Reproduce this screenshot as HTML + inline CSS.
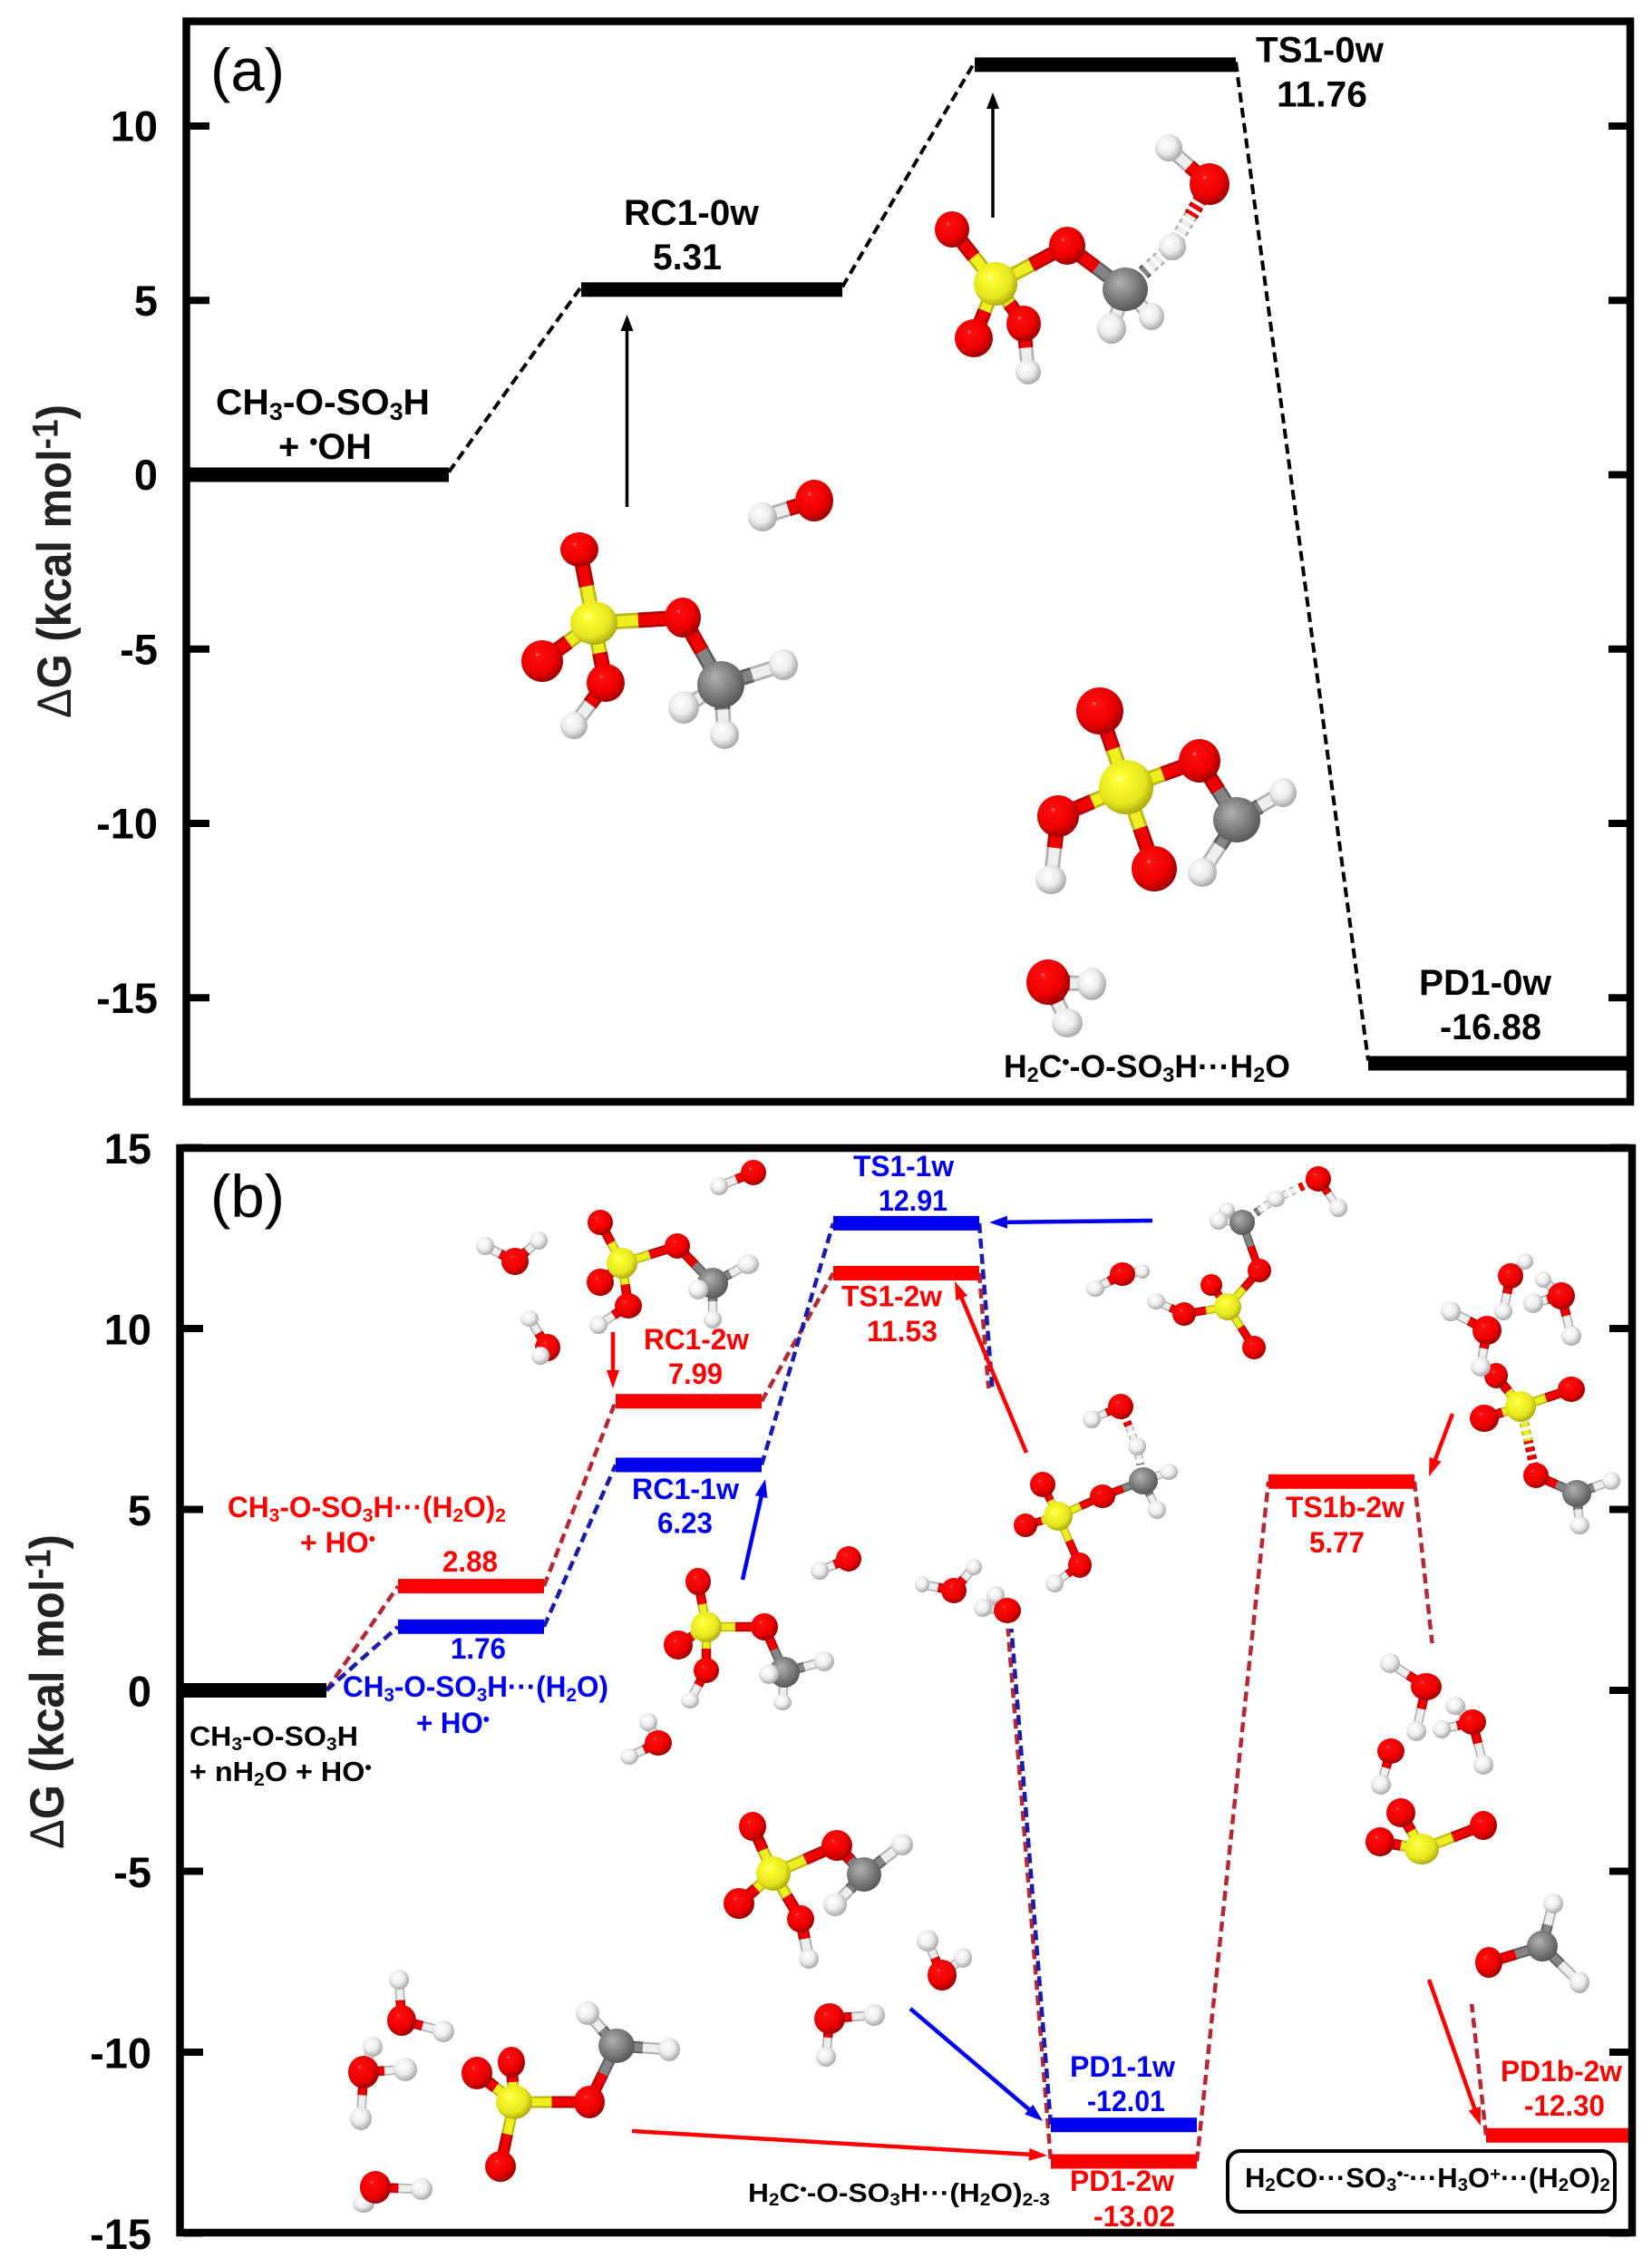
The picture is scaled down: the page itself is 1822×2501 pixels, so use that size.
<!DOCTYPE html>
<html lang="en">
<head>
<meta charset="utf-8">
<title>Free energy profiles</title>
<style>
html,body{margin:0;padding:0;background:#fff;}
svg{display:block;}
text{font-family:"Liberation Sans",Arial,sans-serif;}
</style>
</head>
<body>
<svg id="chart" xmlns="http://www.w3.org/2000/svg" width="1822" height="2501" viewBox="0 0 1822 2501">
<defs>
<radialGradient id="gO" cx="42%" cy="40%" r="62%" fx="38%" fy="34%"><stop offset="0" stop-color="#ff9a9a"/><stop offset=".08" stop-color="#ff1010"/><stop offset=".65" stop-color="#ee0000"/><stop offset="1" stop-color="#980000"/></radialGradient>
<radialGradient id="gS" cx="42%" cy="40%" r="62%" fx="38%" fy="34%"><stop offset="0" stop-color="#ffffa0"/><stop offset=".15" stop-color="#fdfd30"/><stop offset=".7" stop-color="#e6e620"/><stop offset="1" stop-color="#a8a810"/></radialGradient>
<radialGradient id="gC" cx="42%" cy="40%" r="62%" fx="38%" fy="34%"><stop offset="0" stop-color="#b0b0b0"/><stop offset=".5" stop-color="#858585"/><stop offset="1" stop-color="#565656"/></radialGradient>
<radialGradient id="gH" cx="42%" cy="40%" r="62%" fx="38%" fy="34%"><stop offset="0" stop-color="#ffffff"/><stop offset=".55" stop-color="#ececec"/><stop offset="1" stop-color="#a4a4a4"/></radialGradient>
</defs>
</svg>
<script>
// ---- chart data ----
const categoriesA = ['Reactants', 'RC1-0w', 'TS1-0w', 'PD1-0w'];
const valuesA = [0, 5.31, 11.76, -16.88];
const ticksA = [10, 5, 0, -5, -10, -15];

const categoriesB = ['Reactants', 'Complex', 'RC1', 'TS1', 'PD1', 'TS1b', 'PD1b'];
const baseValuesB = [0];
const blueValuesB = [0, 1.76, 6.23, 12.91, -12.01];
const redValuesB = [0, 2.88, 7.99, 11.53, -13.02, 5.77, -12.30];
const ticksB = [15, 10, 5, 0, -5, -10, -15];

// ---- axis functions ----
function yA(v) { return 523.5 - 38.45 * v; }
function xA(i) { return 207 + 434 * i; }
const barWidthA = 288;
function yB(v) { return 1864 - 39.9 * v; }
function xB(i) { return 199 + 240 * i; }
const barWidthB = 161;

const NS = 'http://www.w3.org/2000/svg';
const svg = document.getElementById('chart');
function make(tag, attrs, parent) {
  const el = document.createElementNS(NS, tag);
  for (const k in attrs) el.setAttribute(k, attrs[k]);
  (parent || svg).appendChild(el);
  return el;
}
function fmt(v) { return v.toFixed(2); }
const SUB = s => '<tspan style="font-size:66%;baseline-shift:-22%">' + s + '</tspan>';
const SUP = s => '<tspan style="font-size:66%;baseline-shift:38%">' + s + '</tspan>';

function label(name, x, base, w, size, color, html, weight) {
  const t = make('text', { x: 0, y: 0, fill: color, 'font-size': size, 'font-weight': weight || 'bold' });
  
  
  t.innerHTML = html;
  const len = t.getComputedTextLength() || w;
  t.setAttribute('transform', 'translate(' + x + ',' + base + ') scale(' + (w / len) + ',1)');
  return t;
}

function dashed(name, x1, y1, x2, y2, color, sw) {
  const l = make('line', { x1, y1, x2, y2, stroke: color, 'stroke-width': sw, 'stroke-dasharray': '11 6' });
  
  
}
function bar(name, x, w, y, color) {
  const r = make('rect', { x, y: y - 8, width: w, height: 16, fill: color });
  
  
}
function mask(name, x, y, w, h) {
  const r = make('rect', { x, y, width: w, height: h, fill: '#fff' });
  
  
}
function arrow(name, x1, y1, x2, y2, color, sw, hl, hw) {
  const g = make('g', {});
  
  
  const d = Math.hypot(x2 - x1, y2 - y1), ux = (x2 - x1) / d, uy = (y2 - y1) / d;
  make('line', { x1, y1, x2: x2 - ux * hl * .8, y2: y2 - uy * hl * .8, stroke: color, 'stroke-width': sw }, g);
  const bx = x2 - ux * hl, by = y2 - uy * hl;
  make('polygon', { points: x2 + ',' + y2 + ' ' + (bx - uy * hw) + ',' + (by + ux * hw) + ' ' + (bx + uy * hw) + ',' + (by - ux * hw), fill: color }, g);
}
function frame(name, x, y, w, h) {
  const r = make('rect', { x, y, width: w, height: h, fill: 'none', stroke: '#000', 'stroke-width': 8.5 });
  
  
}
function tick(name, x1, x2, y) {
  const l = make('line', { x1, x2, y1: y, y2: y, stroke: '#000', 'stroke-width': 8 });
  
  
}
function tickLabel(name, xr, base, txt) {
  const t = make('text', { x: xr, y: base, 'text-anchor': 'end', 'font-size': 47, 'font-weight': 'bold', fill: '#000' });
  
  
  t.textContent = txt;
}
function axisTitle(name, x, y, length) {
  const t = make('text', { x: 0, y: 0, 'font-size': 46, 'font-weight': 'bold', fill: '#222' });
  
  
  t.innerHTML = '<tspan font-weight="normal">Δ</tspan>G (kcal mol<tspan style="font-size:76%;baseline-shift:36%">-1</tspan>)';
  const len = t.getComputedTextLength() || length;
  t.setAttribute('transform', 'translate(' + x + ',' + y + ') rotate(-90) scale(' + (length / len) + ',1.14)');
}

// ---- molecule illustrations (drawn in image pixels) ----
const elementColor = { O: '#f00000', S: '#eeee20', C: '#858585', H: '#eeeeee' };
const elementEdge = { O: '#b00000', S: '#b8b810', C: '#5c5c5c', H: '#b0b0b0' };
function molecule(name, w, atoms, bonds) {
  const g = make('g', {});
  
  
  bonds.forEach(b => {
    const p = atoms[b[0]], q = atoms[b[1]];
    const mx = (p[1] + q[1]) / 2, my = (p[2] + q[2]) / 2;
    [[p, mx, my], [q, mx, my]].forEach(s => {
      const edge = { x1: s[0][1], y1: s[0][2], x2: s[1], y2: s[2], stroke: elementEdge[s[0][0]], 'stroke-width': w };
      const core = { x1: s[0][1], y1: s[0][2], x2: s[1], y2: s[2], stroke: elementColor[s[0][0]], 'stroke-width': w * 0.68 };
      if (b[2]) { edge['stroke-dasharray'] = '5 4'; core['stroke-dasharray'] = '5 4'; }
      const u = make('line', edge, g);
      
      
      const l = make('line', core, g);
      
      
    });
  });
  atoms.forEach(a => {
    const e = make('ellipse', { cx: a[1], cy: a[2], rx: a[3], ry: a[4], fill: 'url(#g' + a[0] + ')' }, g);
    
    
  });
}

// ================ PANEL A ================
for (let i = 0; i < valuesA.length - 1; i++) {
  dashed('connector-a-' + i, xA(i) + barWidthA, yA(valuesA[i]) - 3, xA(i + 1), yA(valuesA[i + 1]) - 3, '#000', 4);
}
categoriesA.forEach((c, i) => {
  bar('level-a-' + c.toLowerCase(), xA(i), barWidthA, yA(valuesA[i]), '#000');
});
ticksA.forEach(v => {
  tick('y-tick-a-left', 209, 231, yA(v));
  tick('y-tick-a-right', 1774, 1796, yA(v));
  tickLabel('y-tick-label-a', 174, yA(v) + 16.5, String(v));
});
frame('panel-a-frame', 205.5, 23.5, 1592.5, 1191.5);
axisTitle('y-axis-title-a', 78, 792, 346);
label('panel-a-tag', 232, 100, 82, 66, '#000', '(a)', 'normal');

molecule('rc1-0w-molecule', 17, [
  ['O',639,606,21,19],['S',655,687,26,24],['O',753,681,20,22],['O',598,729,23,23],['O',668,753,21,21],
  ['H',633,800,15,15],['C',795,755,26,26],['H',864,733,16,17],['H',754,780,17,18],['H',799,810,16,16]
], [[0,1],[1,2],[1,3],[1,4],[4,5],[2,6],[6,7],[6,8],[6,9]]);
molecule('hydroxyl-radical-molecule', 17, [['H',841,570,16,16],['O',898,552,21,23]], [[0,1]]);
molecule('ts1-0w-molecule', 16, [
  ['O',1050,253,19,20],['S',1098,313,24,24],['O',1177,271,20,21],['O',1074,373,21,21],['O',1129,357,19,20],
  ['H',1134,410,14,14],['C',1241,319,25,24],['H',1226,362,16,17],['H',1270,349,14,15],['H',1293,272,15,15],
  ['O',1334,203,22,23],['H',1289,163,15,15]
], [[0,1],[1,2],[1,3],[1,4],[4,5],[2,6],[6,7],[6,8],[6,9,1],[9,10,1],[10,11]]);
molecule('pd1-0w-molecule', 17, [
  ['O',1213,784,26,26],['S',1242,868,30,30],['O',1323,839,23,24],['O',1167,900,23,23],['O',1273,958,25,25],
  ['H',1159,970,17,16],['C',1364,904,26,25],['H',1415,874,15,16],['H',1326,962,16,16]
], [[0,1],[1,2],[1,3],[1,4],[3,5],[2,6],[6,7],[6,8]]);
molecule('pd1-0w-water', 17, [['O',1156,1083,24,25],['H',1204,1085,16,18],['H',1177,1128,17,16]], [[0,1],[0,2]]);

arrow('arrow-rc1-0w', 691.5, 559, 691.5, 347, '#000', 3.5, 18, 7);
arrow('arrow-ts1-0w', 1095, 240, 1095, 102, '#000', 3.5, 18, 7);

label('rc1-0w-name', 688, yA(valuesA[1]) - 71.5, 149, 40, '#000', 'RC1-0w');
label('rc1-0w-value', 720, yA(valuesA[1]) - 22.5, 76, 40, '#000', fmt(valuesA[1]));
label('ts1-0w-name', 1385, yA(valuesA[2]) - 3, 141, 40, '#000', 'TS1-0w');
label('ts1-0w-value', 1408, yA(valuesA[2]) + 46, 100, 40, '#000', fmt(valuesA[2]));
label('pd1-0w-name', 1565, yA(valuesA[3]) - 75.5, 146, 40, '#000', 'PD1-0w');
label('pd1-0w-value', 1588, yA(valuesA[3]) - 26.5, 112, 40, '#000', fmt(valuesA[3]));
label('reactant-a-name', 238, 457, 236, 40, '#000', 'CH' + SUB('3') + '-O-SO' + SUB('3') + 'H');
label('reactant-a-radical', 307, 506, 103, 40, '#000', '+ ' + SUP('•') + 'OH');
label('product-a-formula', 1107, 1188, 316, 35, '#000', 'H' + SUB('2') + 'C' + SUP('•') + '-O-SO' + SUB('3') + 'H···H' + SUB('2') + 'O');

// ================ PANEL B ================
const redDash = '#b32a36';
const blueDash = '#1c1caa';
for (let i = 0; i < redValuesB.length - 1; i++) {
  dashed('connector-red-' + i, xB(i) + barWidthB, yB(redValuesB[i]), xB(i + 1), yB(redValuesB[i + 1]), redDash, 4.5);
}
for (let i = 0; i < blueValuesB.length - 1; i++) {
  dashed('connector-blue-' + i, xB(i) + barWidthB, yB(blueValuesB[i]), xB(i + 1), yB(blueValuesB[i + 1]), blueDash, 4.5);
}
// white backgrounds of the pasted molecule pictures hide parts of the connectors
mask('molecule-backdrop-ts1', 1050, 1531, 90, 265);
mask('molecule-backdrop-ts1b', 1570, 1812, 90, 398);

bar('level-b-reactants', xB(0), barWidthB, yB(baseValuesB[0]), '#000');
categoriesB.forEach((c, i) => {
  if (i === 0) return;
  if (i < blueValuesB.length) bar('level-blue-' + c.toLowerCase(), xB(i), barWidthB, yB(blueValuesB[i]), '#0000f0');
  bar('level-red-' + c.toLowerCase(), xB(i), barWidthB, yB(redValuesB[i]), '#ff0000');
});
ticksB.forEach(v => {
  tick('y-tick-b-left', 202, 224, yB(v));
  tick('y-tick-b-right', 1775, 1797, yB(v));
  tickLabel('y-tick-label-b', 167, yB(v) + 17.5, String(v));
});
frame('panel-b-frame', 198.5, 1266, 1601.5, 1196);
axisTitle('y-axis-title-b', 70, 2039, 347);
label('panel-b-tag', 232, 1342, 82, 66, '#000', '(b)', 'normal');

const w2 = 10.5;
molecule('rc1-2w-water-a', w2, [['O',831,1293,14,14],['H',793,1308,10,10]], [[0,1]]);
molecule('rc1-2w-water-b', w2, [['O',568,1391,15,15],['H',535,1374,10,10],['H',594,1368,10,10]], [[0,1],[0,2]]);
molecule('rc1-2w-water-c', w2, [['H',584,1454,10,9],['O',604,1486,14,15],['H',596,1495,10,10]], [[0,1],[1,2]]);
molecule('rc1-2w-molecule', w2, [
  ['O',662,1348,14,14],['S',686,1393,17,17],['O',747,1374,14,14],['O',662,1414,15,15],['O',693,1440,15,14],
  ['H',660,1461,10,10],['C',786,1415,17,17],['H',825,1394,12,11],['H',770,1422,11,11],['H',786,1455,10,10]
], [[0,1],[1,2],[1,3],[1,4],[4,5],[2,6],[6,7],[6,8],[6,9]]);
molecule('rc1-1w-molecule', w2, [
  ['O',770,1744,14,15],['S',779,1794,17,17],['O',843,1794,15,15],['O',748,1814,16,16],['O',779,1842,14,14],
  ['H',761,1875,10,9],['C',865,1844,17,17],['H',848,1846,11,11],['H',909,1832,11,11],['H',863,1877,10,9]
], [[0,1],[1,2],[1,3],[1,4],[4,5],[2,6],[6,7],[6,8],[6,9]]);
molecule('rc1-1w-water-a', w2, [['O',936,1719,14,14],['H',904,1732,10,10]], [[0,1]]);
molecule('rc1-1w-water-b', w2, [['O',726,1922,15,14],['H',715,1899,10,10],['H',694,1937,10,9]], [[0,1],[0,2]]);

molecule('ts1-1w-molecule', 9, [
  ['C',1370,1348,14,14],['H',1353,1334,9,8],['H',1344,1346,10,10],['H',1407,1322,10,9],['O',1454,1300,14,14],
  ['H',1476,1332,10,10],['O',1389,1401,13,13],['S',1354,1441,15,15],['O',1336,1417,12,12],['O',1306,1449,13,13],
  ['H',1275,1435,10,9],['O',1383,1486,13,13]
], [[0,1],[0,2],[0,3,1],[3,4,1],[4,5],[0,6],[6,7],[7,8],[7,9],[9,10],[7,11]]);
molecule('ts1-1w-water', w2, [['H',1208,1421,10,9],['H',1260,1402,8,8],['O',1238,1405,14,13]], [[0,2],[1,2]]);
molecule('ts1-2w-molecule', 9, [
  ['O',1236,1551,14,14],['H',1204,1565,10,10],['H',1254,1595,10,10],['C',1261,1633,16,15],['H',1289,1623,10,9],
  ['H',1276,1665,10,10],['O',1216,1650,14,13],['S',1167,1672,16,16],['O',1150,1637,14,14],['O',1131,1682,13,13],
  ['O',1191,1726,13,14],['H',1163,1746,10,10]
], [[0,1],[0,2,1],[2,3,1],[3,4],[3,5],[3,6],[6,7],[7,8],[7,9],[7,10],[10,11]]);
molecule('ts1-2w-water-a', w2, [['O',1052,1754,14,14],['H',1017,1747,8,9],['H',1074,1728,9,9]], [[0,1],[0,2]]);
molecule('ts1-2w-water-b', w2, [['H',1098,1759,10,10],['H',1084,1773,10,10],['O',1111,1776,15,14]], [[0,2],[1,2]]);

molecule('ts1b-2w-water-a', w2, [['O',1666,1407,14,14],['H',1682,1391,9,9],['H',1658,1446,10,10]], [[0,1],[0,2]]);
molecule('ts1b-2w-water-b', w2, [['H',1702,1411,9,9],['H',1691,1437,11,11],['O',1722,1429,15,15],['H',1733,1473,11,11]], [[0,2],[1,2],[2,3]]);
molecule('ts1b-2w-molecule', w2, [
  ['O',1650,1517,13,14],['S',1677,1551,17,17],['O',1733,1532,15,14],['O',1637,1564,16,15],['O',1694,1627,14,14],
  ['C',1739,1647,16,15],['H',1777,1633,10,10],['H',1742,1682,11,10]
], [[0,1],[1,2],[1,3],[1,4,1],[4,5],[5,6],[5,7]]);
molecule('ts1b-2w-water-c', w2, [['H',1600,1446,11,11],['O',1640,1467,16,16],['H',1633,1507,11,11]], [[0,1],[1,2]]);

molecule('pd1b-2w-water-a', w2, [['H',1533,1834,11,11],['O',1573,1860,17,15],['H',1562,1909,11,11]], [[0,1],[1,2]]);
molecule('pd1b-2w-water-b', w2, [['O',1534,1931,15,14],['H',1523,1968,11,11]], [[0,1]]);
molecule('pd1b-2w-water-c', w2, [['H',1605,1881,11,10],['H',1590,1907,10,10],['O',1624,1899,15,14],['H',1636,1946,11,11]], [[0,2],[1,2],[2,3]]);
molecule('so3-molecule', 12, [['O',1545,1999,16,16],['O',1636,2013,15,16],['O',1522,2031,16,16],['S',1568,2039,19,17]], [[0,3],[1,3],[2,3]]);
molecule('formaldehyde-molecule', 12, [['O',1642,2164,15,17],['C',1701,2146,17,17],['H',1713,2099,11,11],['H',1742,2186,11,12]], [[0,1],[1,2],[1,3]]);

molecule('pd1-1w-molecule', 13, [
  ['O',830,2014,15,16],['S',853,2066,19,19],['O',815,2099,17,17],['O',883,2116,15,15],['H',892,2160,11,11],
  ['O',923,2035,17,17],['C',953,2067,19,19],['H',995,2034,12,12],['H',921,2100,13,13]
], [[0,1],[1,2],[1,3],[3,4],[1,5],[5,6],[6,7],[6,8]]);
molecule('pd1-1w-water-a', w2, [['H',1023,2140,12,12],['H',1062,2159,10,11],['O',1039,2178,16,17]], [[0,2],[1,2]]);
molecule('pd1-1w-water-b', w2, [['O',915,2226,17,17],['H',964,2222,12,12],['H',911,2268,11,11]], [[0,1],[0,2]]);

molecule('pd1-2w-molecule', 13, [
  ['O',564,2274,15,17],['O',526,2286,17,18],['S',567,2318,20,19],['O',650,2318,17,18],['C',680,2256,20,19],
  ['H',648,2220,13,13],['H',738,2260,12,13],['O',552,2389,17,17]
], [[0,2],[1,2],[2,3],[3,4],[4,5],[4,6],[2,7]]);
molecule('pd1-2w-water-a', w2, [['O',443,2228,16,17],['H',440,2183,11,11],['H',489,2240,12,12]], [[0,1],[0,2]]);
molecule('pd1-2w-water-b', w2, [['H',411,2257,11,11],['O',401,2285,17,18],['H',447,2282,13,13],['H',398,2336,12,13]], [[0,1],[1,2],[1,3]]);
molecule('pd1-2w-water-c', w2, [['H',401,2430,12,10],['O',414,2412,17,18],['H',465,2414,12,12]], [[0,1],[1,2]]);

arrow('arrow-rc1-2w', 676, 1469, 676, 1531, '#ff0000', 4.5, 20, 7);
arrow('arrow-rc1-1w', 819, 1742, 844, 1631, '#0000f0', 4.5, 20, 7);
arrow('arrow-ts1-1w', 1271, 1346, 1091, 1348, '#0000f0', 4.5, 20, 7);
arrow('arrow-ts1-2w', 1132, 1602, 1053, 1413, '#ff0000', 4.5, 20, 7);
arrow('arrow-ts1b-2w', 1602, 1559, 1576, 1628, '#ff0000', 4.5, 20, 7);
arrow('arrow-pd1-1w', 1004, 2215, 1150, 2339, '#0000f0', 4.5, 20, 7);
arrow('arrow-pd1-2w', 697, 2350, 1155, 2377, '#ff0000', 4.5, 20, 7);
arrow('arrow-pd1b-2w', 1576, 2183, 1633, 2344, '#ff0000', 4.5, 20, 7);

const RED = '#ff0000', BLUE = '#0000f0';
label('rc1-2w-name', 710, yB(redValuesB[2]) - 57, 116, 32, RED, 'RC1-2w');
label('rc1-2w-value', 737, yB(redValuesB[2]) - 19, 60, 32, RED, fmt(redValuesB[2]));
label('rc1-1w-name', 697, yB(blueValuesB[2]) + 37.5, 118, 32, BLUE, 'RC1-1w');
label('rc1-1w-value', 725, yB(blueValuesB[2]) + 75, 61, 32, BLUE, fmt(blueValuesB[2]));
label('complex-2w-value', 488, yB(redValuesB[1]) - 16, 61, 32, RED, fmt(redValuesB[1]));
label('complex-1w-value', 497, yB(blueValuesB[1]) + 35, 61, 32, BLUE, fmt(blueValuesB[1]));
label('complex-2w-formula', 251, 1673, 307, 32, RED, 'CH' + SUB('3') + '-O-SO' + SUB('3') + 'H···(H' + SUB('2') + 'O)' + SUB('2'));
label('complex-2w-radical', 331, 1712, 83, 32, RED, '+ HO' + SUP('•'));
label('complex-1w-formula', 378, 1871, 293, 32, BLUE, 'CH' + SUB('3') + '-O-SO' + SUB('3') + 'H···(H' + SUB('2') + 'O)');
label('complex-1w-radical', 459, 1911, 81, 32, BLUE, '+ HO' + SUP('•'));
label('reactant-b-name', 209, 1925, 186, 31, '#000', 'CH' + SUB('3') + '-O-SO' + SUB('3') + 'H');
label('reactant-b-radical', 209, 1964, 201, 31, '#000', '+ nH' + SUB('2') + 'O + HO' + SUP('•'));
label('ts1-1w-name', 941, yB(blueValuesB[3]) - 52, 111, 32, BLUE, 'TS1-1w');
label('ts1-1w-value', 969, yB(blueValuesB[3]) - 14, 76, 32, BLUE, fmt(blueValuesB[3]));
label('ts1-2w-name', 928, yB(redValuesB[3]) + 36.5, 111, 32, RED, 'TS1-2w');
label('ts1-2w-value', 956, yB(redValuesB[3]) + 75, 78, 32, RED, fmt(redValuesB[3]));
label('ts1b-2w-name', 1418, yB(redValuesB[5]) + 39, 131, 32, RED, 'TS1b-2w');
label('ts1b-2w-value', 1444, yB(redValuesB[5]) + 78, 61, 32, RED, fmt(redValuesB[5]));
label('pd1-1w-name', 1180, yB(blueValuesB[4]) - 53, 116, 32, BLUE, 'PD1-1w');
label('pd1-1w-value', 1199, yB(blueValuesB[4]) - 15, 86, 32, BLUE, fmt(blueValuesB[4]));
label('pd1-2w-name', 1180, yB(redValuesB[4]) + 32.5, 115, 32, RED, 'PD1-2w');
label('pd1-2w-value', 1206, yB(redValuesB[4]) + 71.5, 90, 32, RED, fmt(redValuesB[4]));
label('pd1b-2w-name', 1655, yB(redValuesB[6]) - 60, 134, 32, RED, 'PD1b-2w');
label('pd1b-2w-value', 1681, yB(redValuesB[6]) - 22, 89, 32, RED, fmt(redValuesB[6]));
label('product-b-formula', 825, 2428, 333, 29, '#000', 'H' + SUB('2') + 'C' + SUP('•') + '-O-SO' + SUB('3') + 'H···(H' + SUB('2') + 'O)' + SUB('2-3'));

const box = make('rect', { x: 1354, y: 2372, width: 427, height: 67, rx: 14, fill: '#fff', stroke: '#000', 'stroke-width': 4 });


label('product-box-formula', 1373, 2412, 403, 31, '#000', 'H' + SUB('2') + 'CO···SO' + SUB('3') + SUP('•-') + '···H' + SUB('3') + 'O' + SUP('+') + '···(H' + SUB('2') + 'O)' + SUB('2'));
</script>
</body>
</html>
